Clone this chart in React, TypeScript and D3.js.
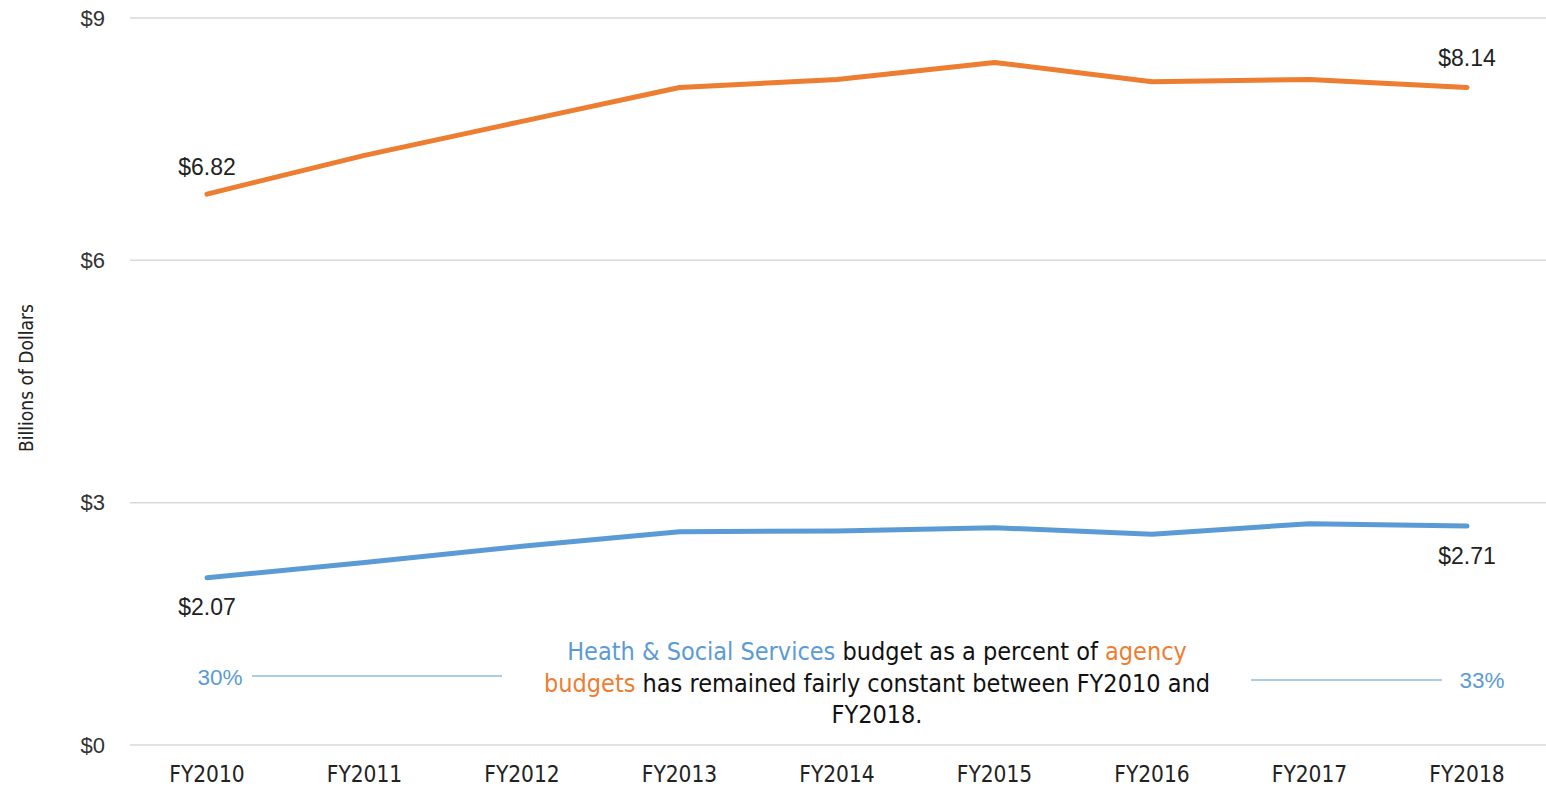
import React from "react";
import * as d3 from "d3";

const years = ["FY2010", "FY2011", "FY2012", "FY2013", "FY2014", "FY2015", "FY2016", "FY2017", "FY2018"];
const agencyBudgets = [6.82, 7.3, 7.72, 8.14, 8.24, 8.45, 8.21, 8.24, 8.14];
const hssBudgets = [2.07, 2.26, 2.46, 2.64, 2.65, 2.69, 2.61, 2.74, 2.71];
const yTicks = [0, 3, 6, 9];
const pctStart = "30%";
const pctEnd = "33%";

const W = 1546;
const H = 787;
const ORANGE = "#ed7d31";
const BLUE = "#5b9bd5";
const NARROW = "'Liberation Sans Narrow', 'DejaVu Sans Condensed', Arial, sans-serif";
const SANS = "'Liberation Sans', Arial, sans-serif";

export default function App() {
  const x = d3.scalePoint<string>().domain(years).range([207, 1467]);
  const y = d3.scaleLinear().domain([0, 9]).range([745, 18]);
  const line = d3
    .line<number>()
    .x((_, i) => x(years[i]) as number)
    .y((d) => y(d));

  const last = years.length - 1;
  return (
    <svg width={W} height={H} style={{ position: "absolute", left: 0, top: 0, background: "#fff" }}>
      {yTicks.map((t) => (
        <g key={t}>
          <line x1={130} x2={W} y1={y(t)} y2={y(t)} stroke="#d9d9d9" strokeWidth={1.5} />
          <text x={105} y={y(t)} dy="0.35em" textAnchor="end" fontFamily={SANS} fontSize={22} fill="#333">
            {"$" + t}
          </text>
        </g>
      ))}
      {years.map((yr) => (
        <text key={yr} x={x(yr)} y={782} textAnchor="middle" fontFamily={NARROW} fontSize={22.5} fill="#222">
          {yr}
        </text>
      ))}
      <text
        transform={`translate(33,378) rotate(-90)`}
        textAnchor="middle"
        fontFamily={NARROW}
        fontSize={19}
        fill="#222"
      >
        Billions of Dollars
      </text>

      <path d={line(agencyBudgets) || ""} fill="none" stroke={ORANGE} strokeWidth={5} strokeLinecap="round" strokeLinejoin="round" />
      <path d={line(hssBudgets) || ""} fill="none" stroke={BLUE} strokeWidth={5} strokeLinecap="round" strokeLinejoin="round" />

      <text x={x(years[0])} y={y(agencyBudgets[0]) - 19} textAnchor="middle" fontFamily={SANS} fontSize={23} fill="#222">
        {"$" + agencyBudgets[0].toFixed(2)}
      </text>
      <text x={x(years[last])} y={y(agencyBudgets[last]) - 21} textAnchor="middle" fontFamily={SANS} fontSize={23} fill="#222">
        {"$" + agencyBudgets[last].toFixed(2)}
      </text>
      <text x={x(years[0])} y={y(hssBudgets[0]) + 37} textAnchor="middle" fontFamily={SANS} fontSize={23} fill="#222">
        {"$" + hssBudgets[0].toFixed(2)}
      </text>
      <text x={x(years[last])} y={y(hssBudgets[last]) + 38} textAnchor="middle" fontFamily={SANS} fontSize={23} fill="#222">
        {"$" + hssBudgets[last].toFixed(2)}
      </text>

      <text x={220} y={685} textAnchor="middle" fontFamily={SANS} fontSize={22.5} fill={BLUE}>
        {pctStart}
      </text>
      <line x1={252} x2={502} y1={676} y2={676} stroke={BLUE} strokeWidth={1.2} />
      <line x1={1251} x2={1442} y1={680} y2={680} stroke={BLUE} strokeWidth={1.2} />
      <text x={1482} y={688} textAnchor="middle" fontFamily={SANS} fontSize={22.5} fill={BLUE}>
        {pctEnd}
      </text>

      <g fontFamily={NARROW} fontSize={25} textAnchor="middle">
        <text x={877} y={660}>
          <tspan fill={BLUE}>Heath &amp; Social Services</tspan>
          <tspan fill="#111"> budget as a percent of </tspan>
          <tspan fill={ORANGE}>agency</tspan>
        </text>
        <text x={877} y={692}>
          <tspan fill={ORANGE}>budgets</tspan>
          <tspan fill="#111"> has remained fairly constant between FY2010 and</tspan>
        </text>
        <text x={877} y={723} fill="#111">
          FY2018.
        </text>
      </g>
    </svg>
  );
}
